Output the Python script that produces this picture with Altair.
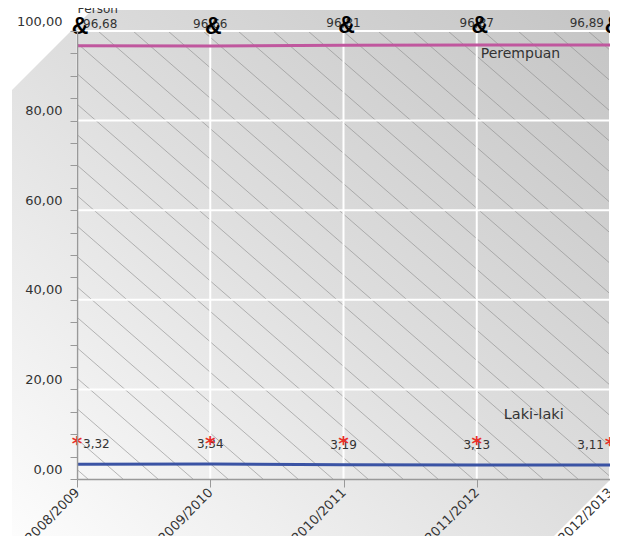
import altair as alt
import pandas as pd
import numpy as np

# ---------------- data ----------------
periods = ["2008/2009", "2009/2010", "2010/2011", "2011/2012", "2012/2013"]
perempuan = [96.68, 96.66, 96.81, 96.87, 96.89]
laki_laki = [3.32, 3.34, 3.19, 3.13, 3.11]
series_names = ["Perempuan", "Laki-laki"]
y_grid_values = [20, 40, 60, 80, 100]
y_tick_values = list(range(0, 101, 5))
y_axis_title = "Person"

# ---------------- layout ----------------
W, H = 533, 448
FONT = "DejaVu Sans"
TXT = "#333333"

rows = []
for name, vals in zip(series_names, [perempuan, laki_laki]):
    for i, (p, v) in enumerate(zip(periods, vals)):
        anchor = "left" if i == 0 else ("right" if i == len(periods) - 1 else "center")
        rows.append({"period": p, "value": v, "series": name, "anchor": anchor})
df = pd.DataFrame(rows)

x_scale = alt.Scale(type="point", padding=0, domain=periods)
y_scale = alt.Scale(domain=[0, 100], nice=False, zero=True)


def X(axis=None):
    return alt.X("period:N", scale=x_scale, axis=axis, title=None)


def Y(axis=None):
    return alt.Y("value:Q", scale=y_scale, axis=axis)


x_axis = alt.Axis(
    labelAngle=-45, labelAlign="right", labelBaseline="middle",
    labelFontSize=13, labelFont=FONT, labelColor=TXT,
    tickSize=8, tickColor="#999999", domainColor="#999999", domainWidth=1.5,
    grid=False, zindex=1, labelPadding=3, title=None,
)
y_axis = alt.Axis(
    values=y_tick_values,
    labelExpr="datum.value % 20 == 0 ? replace(format(datum.value, '.2f'), '.', ',') : ''",
    labelFontSize=13, labelFont=FONT, labelColor=TXT,
    labelBaseline="alphabetic", labelOffset=-6, labelPadding=8,
    tickSize=7, tickColor="#999999", domainColor="#999999", domainWidth=1.5,
    grid=False, zindex=1,
    title=y_axis_title, titleAngle=0, titleX=0, titleY=-19, titleAlign="left",
    titleBaseline="alphabetic", titleFontWeight="normal", titleFontSize=12,
    titleFont=FONT, titleColor=TXT,
)

# ---------------- background shape (decoration) ----------------
poly = [(-65, 59), (15, -21), (531, -21), (543, -9), (543, 439), (469, 513), (-65, 513)]
xs = [p[0] for p in poly]
ys = [p[1] for p in poly]
cx, cy = (min(xs) + max(xs)) / 2, (min(ys) + max(ys)) / 2
half = max(max(xs) - min(xs), max(ys) - min(ys)) / 2
path = "M" + "L".join(f"{(px - cx) / half:.4f},{(py - cy) / half:.4f}" for px, py in poly) + "Z"

bg = alt.Chart(pd.DataFrame({"a": [0]})).mark_point(
    shape=path, size=(2 * half) ** 2, filled=True, opacity=1, strokeWidth=0,
    fill=alt.Gradient(
        gradient="linear", x1=0, y1=1, x2=1, y2=0,
        stops=[alt.GradientStop(color="#fdfdfd", offset=0),
               alt.GradientStop(color="#dedede", offset=0.5),
               alt.GradientStop(color="#c4c4c4", offset=1)],
    ),
).encode(x=alt.value(cx), y=alt.value(cy))

# hatch lines (decoration)
slope = 0.87
run = H / slope
starts = np.arange(-504, W, 35)
hatch_df = pd.DataFrame({"hx": starts, "hx2": starts + run, "hy": H, "hy2": 0})
hatch = alt.Chart(hatch_df).mark_rule(
    clip=True, color="#8a8a8a", strokeWidth=0.8, opacity=0.75
).encode(
    x=alt.X("hx:Q", scale=alt.Scale(domain=[0, W]), axis=None),
    x2="hx2:Q",
    y=alt.Y("hy:Q", scale=alt.Scale(domain=[0, H]), axis=None),
    y2="hy2:Q",
)

# grid lines
vgrid = alt.Chart(pd.DataFrame({"period": periods})).mark_rule(
    color="white", strokeWidth=2).encode(x=X())
hgrid = alt.Chart(pd.DataFrame({"value": y_grid_values})).mark_rule(
    color="white", strokeWidth=2).encode(y=Y())

# lines
lines = alt.Chart(df).mark_line(strokeWidth=3).encode(
    x=X(x_axis), y=Y(y_axis),
    color=alt.Color("series:N", scale=alt.Scale(domain=series_names, range=["#c0579e", "#3a53a4"]), legend=None),
    detail="series:N",
)

layers = [bg, hatch, vgrid, hgrid, lines]

# value labels
base = alt.Chart(df).transform_calculate(
    label="replace(format(datum.value, '.2f'), '.', ',')"
)
dys = {"Perempuan": -18, "Laki-laki": -16}
dxs = {"left": 6, "center": 0, "right": -6}
for s in series_names:
    for a in ["left", "center", "right"]:
        layers.append(
            base.transform_filter(
                (alt.datum.series == s) & (alt.datum.anchor == a)
            ).mark_text(
                align=a, baseline="alphabetic", dx=dxs[a], dy=dys[s],
                fontSize=12, font=FONT, color=TXT,
            ).encode(x=X(), y=Y(), text="label:N")
        )

# markers
amp = alt.Chart(df).transform_filter(alt.datum.series == "Perempuan").mark_text(
    text="&", fontSize=23, fontWeight="bold", font="Liberation Sans",
    color="black", dx=3, dy=-12, baseline="alphabetic", align="center",
).encode(x=X(), y=Y())
star = alt.Chart(df).transform_filter(alt.datum.series == "Laki-laki").mark_text(
    text="*", fontSize=20, fontWeight="bold", font=FONT, color="#e8302a",
    dx=0, dy=-14.5, baseline="alphabetic", align="center",
).encode(x=X(), y=Y())
layers += [amp, star]

# series labels
lab_p = alt.Chart(df).transform_filter(
    (alt.datum.series == "Perempuan") & (alt.datum.period == periods[3])
).mark_text(align="left", baseline="alphabetic", dx=4, dy=13, fontSize=14,
            font=FONT, color=TXT).encode(x=X(), y=Y(), text="series:N")
lab_l = alt.Chart(df).transform_filter(
    (alt.datum.series == "Laki-laki") & (alt.datum.period == periods[3])
).mark_text(align="left", baseline="alphabetic", dx=27, dy=-46, fontSize=14.5,
            font=FONT, color=TXT).encode(x=X(), y=Y(), text="series:N")
layers += [lab_p, lab_l]

chart = alt.layer(*layers).resolve_scale(
    x="independent", y="independent", color="independent"
).properties(
    width=W, height=H, autosize=alt.AutoSizeParams(type="none"),
    padding={"left": 69, "top": 23, "right": 0, "bottom": 57},
    background="white",
).configure_view(stroke=None)

chart.save("out.html", embed_options={"renderer": "svg", "actions": False})
